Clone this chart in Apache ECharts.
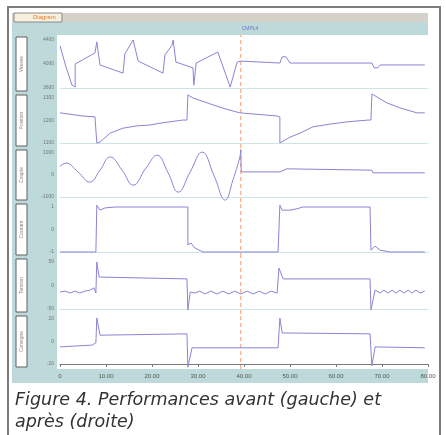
<!DOCTYPE html>
<html>
<head>
<meta charset="utf-8">
<script src="https://cdn.jsdelivr.net/npm/echarts@6/dist/echarts.min.js"></script>
<style>
  html, body { margin: 0; padding: 0; background: #fff; }
  #chart { width: 446px; height: 435px; }
</style>
</head>
<body>
<div id="chart"></div>
<script>
// axe des temps
const timeLabels = ['0', '10.00', '20.00', '30.00', '40.00', '50.00', '60.00', '70.00', '80.00'];
const cursorTime = 39.3;

// noms des voies (boîtes verticales à gauche)
const channelNames = ['Vitesse', 'Position', 'Couple', 'Courant', 'Tension', 'Consigne'];

// graduations de chaque voie : bas, milieu, haut
const yTicks1 = ['3600', '4000', '4400'];
const yTicks2 = ['1100', '1200', '1300'];
const yTicks3 = ['-1000', '0', '1000'];
const yTicks4 = ['-1', '0', '1'];
const yTicks5 = ['-50', '0', '50'];
const yTicks6 = ['-20', '0', '20'];

// signaux [temps, niveau 0..100]
const sig1 = [[0, 88], [1.3, 44], [2.6, 6], [3.3, 2], [3.3, 50], [7.6, 73], [8.0, 96], [8.7, 48],
  [13.7, 31], [14.1, 71], [15.9, 100], [17.0, 56], [22.4, 31], [22.8, 69], [24.3, 88], [24.6, 100],
  [25.2, 54], [28.9, 42], [29.1, 6], [29.6, 52], [34.3, 75], [37.0, 2], [37.4, 2], [38.5, 54],
  [39.3, 56], [39.3, 52], [47.8, 52], [48.3, 65], [49.1, 65], [50.0, 52], [67.8, 52], [68.3, 42],
  [69.1, 42], [69.6, 48], [79.3, 48]];

const sig2 = [[0, 67], [5.0, 60], [7.6, 58], [8.0, 0], [8.7, 2], [10.9, 22], [13.7, 33], [16.7, 38],
  [19.6, 40], [21.7, 44], [26.7, 51], [27.6, 51], [27.8, 107], [28.9, 100], [32.6, 87], [35.9, 76],
  [39.1, 67], [47.2, 60], [47.8, 58], [47.8, 0], [50.0, 13], [52.2, 22], [55.0, 36], [58.7, 42],
  [62.4, 47], [67.0, 51], [67.6, 51], [67.8, 109], [71.1, 89], [73.9, 78], [77.6, 67], [79.3, 67]];

const sig3Before = [[0, 70], [1.3, 77], [3.9, 57], [6.5, 34], [8.7, 61], [10.9, 91], [13.5, 61],
  [15.9, 27], [18.7, 66], [21.1, 95], [23.5, 55], [25.7, 11], [28.3, 57], [30.9, 102], [33.5, 48],
  [35.9, -7], [37.6, 39], [39.1, 91], [39.3, 107]];
const sig3After = [[39.3, 107], [39.4, 57], [47.8, 57], [49.3, 64], [67.8, 61], [68.0, 55], [79.3, 55]];

const sig4 = [[0, 0], [7.8, 0], [8.0, 104], [8.7, 93], [9.8, 98], [12.0, 100], [27.8, 100], [27.8, 16],
  [28.5, 20], [29.3, 9], [31.1, 0], [47.4, 0], [47.8, 104], [48.3, 93], [50.0, 93], [51.5, 96],
  [52.8, 100], [67.4, 100], [67.6, 4], [68.5, 13], [69.6, 4], [71.7, 0], [79.3, 0]];

const sig5 = [[0, 36], [1.1, 38], [2.2, 34], [3.3, 38], [4.3, 34], [5.4, 38], [6.5, 40], [7.4, 45],
  [7.8, 34], [8.0, 100], [8.5, 68], [27.6, 64], [27.8, -2], [28.3, 36], [29.3, 34], [30.4, 38],
  [31.5, 32], [32.8, 38], [34.1, 32], [35.4, 38], [36.7, 32], [38.0, 38], [39.3, 32], [40.7, 38],
  [42.0, 32], [43.3, 38], [44.6, 32], [45.9, 38], [47.2, 34], [47.6, 87], [48.5, 64], [67.4, 64],
  [67.6, -2], [68.5, 40], [69.6, 34], [70.4, 40], [71.3, 34], [72.2, 40], [73.0, 34], [73.9, 40],
  [74.8, 34], [75.7, 40], [76.5, 34], [77.4, 40], [78.3, 34], [79.3, 38]];

const sig6 = [[0, 38], [7.0, 42], [7.8, 47], [8.0, 102], [8.7, 64], [27.6, 67], [27.8, -7], [28.7, 36],
  [47.4, 36], [47.8, 102], [48.3, 69], [67.4, 67], [67.8, -4], [68.5, 38], [79.3, 36]];

const lineColor = '#8a84d6';
const cursorColor = '#f39a72';
const teal = '#bdd9da';
const panels = [[35, 93], [93, 148], [148, 202], [202, 257], [257, 314], [314, 369]];
const tickSets = [yTicks1, yTicks2, yTicks3, yTicks4, yTicks5, yTicks6];
const seriesSets = [[sig1], [sig2], [sig3Before, sig3After], [sig4], [sig5], [sig6]];

const chart = echarts.init(document.getElementById('chart'));

const grid = [], xAxis = [], yAxis = [], series = [];
const graphic = [
  { type: 'rect', z: -10, shape: { x: 8, y: 7, width: 432, height: 440 }, style: { fill: '#fff', stroke: '#7d7d7d', lineWidth: 2 } },
  { type: 'rect', z: -9, shape: { x: 12, y: 13, width: 416, height: 9 }, style: { fill: '#d5d2ca' } },
  { type: 'rect', z: -8, shape: { x: 14, y: 13, width: 48, height: 9 }, style: { fill: '#f6f0dc', stroke: '#8a8a8a', lineWidth: 1 } },
  { type: 'text', z: -7, x: 33, y: 14, style: { text: 'Diagram', fill: '#e8782e', fontSize: 6, fontFamily: 'Liberation Sans' } },
  { type: 'rect', z: -9, shape: { x: 12, y: 22, width: 416, height: 13 }, style: { fill: teal } },
  { type: 'text', z: -7, x: 250, y: 26, style: { text: 'CMPL4', fill: '#7474c8', fontSize: 5, align: 'center', fontFamily: 'Liberation Sans' } },
  { type: 'rect', z: -9, shape: { x: 12, y: 35, width: 45, height: 348 }, style: { fill: teal } },
  { type: 'rect', z: -9, shape: { x: 55, y: 369, width: 373, height: 14 }, style: { fill: teal } },
  { type: 'rect', z: -8, shape: { x: 57, y: 35, width: 371, height: 334 }, style: { fill: '#fff' } }
];

panels.forEach(function (p, i) {
  const top = p[0], bottom = p[1];
  const span = (bottom - top) - 10;
  const pad = 5 / span * 100;
  const last = i === panels.length - 1;
  grid.push({ left: 60, right: 18, top: top, height: bottom - top });
  xAxis.push({
    type: 'value', gridIndex: i, min: 0, max: 80, interval: 10,
    axisLine: { show: true, lineStyle: { color: last ? '#7a7a7a' : '#cfe4e4', width: 1 } },
    axisTick: { show: last, length: 3, lineStyle: { color: '#7a7a7a' } },
    axisLabel: {
      show: last, fontSize: 6, color: '#555', margin: 4, fontFamily: 'Liberation Sans',
      formatter: function (v) { return timeLabels[Math.round(v / 10)]; }
    },
    splitLine: { show: false }
  });
  const ticks = tickSets[i];
  yAxis.push({
    type: 'value', gridIndex: i, min: -pad, max: 100 + pad,
    axisLine: { show: false }, axisTick: { show: false }, splitLine: { show: false },
    axisLabel: {
      customValues: [0, 50, 100], fontSize: 5, color: '#777', margin: 6, fontFamily: 'Liberation Sans',
      formatter: function (v) { return ticks[Math.round(v / 50)]; }
    }
  });
  // curseur (trait vertical pointillé)
  series.push({
    type: 'line', xAxisIndex: i, yAxisIndex: i, symbol: 'none', animation: false, silent: true, z: 1,
    data: [[cursorTime, -pad], [cursorTime, 100 + pad]],
    lineStyle: { color: cursorColor, type: [4, 3], width: 1 }
  });
  seriesSets[i].forEach(function (d, k) {
    series.push({
      type: 'line', xAxisIndex: i, yAxisIndex: i, data: d, symbol: 'none',
      smooth: (i === 2 && k === 0) ? 0.45 : false,
      lineStyle: { color: lineColor, width: 1 }, animation: false, z: 2
    });
  });
  graphic.push({ type: 'rect', z: -7, shape: { x: 16, y: top + 2, width: 11, height: bottom - top - 4 },
    style: { fill: '#fff', stroke: '#5e5e5e', lineWidth: 1 } });
  graphic.push({ type: 'text', z: -6, x: 21.5, y: (top + bottom) / 2, rotation: Math.PI / 2,
    style: { text: channelNames[i], fill: '#888', fontSize: 5, align: 'center', verticalAlign: 'middle', fontFamily: 'Liberation Sans' } });
});

chart.setOption({
  animation: false,
  title: {
    text: 'Figure 4. Performances avant (gauche) et\naprès (droite)',
    left: 10, top: 384,
    textStyle: { fontFamily: 'DejaVu Sans', fontStyle: 'italic', fontWeight: 'normal', fontSize: 17.5, lineHeight: 22, color: '#333' }
  },
  graphic: graphic,
  grid: grid,
  xAxis: xAxis,
  yAxis: yAxis,
  series: series
});
</script>
</body>
</html>
